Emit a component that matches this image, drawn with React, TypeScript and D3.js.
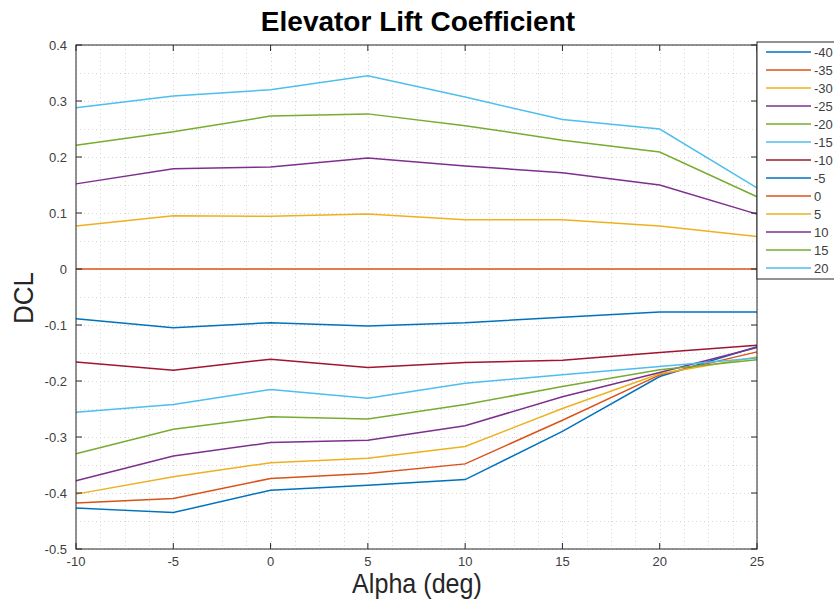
import React, { useEffect, useRef } from "react";
import * as d3 from "d3";

const alphas = [-10, -5, 0, 5, 10, 15, 20, 25];
const deflections = [-40, -35, -30, -25, -20, -15, -10, -5, 0, 5, 10, 15, 20];

const dcl40 = [-0.427, -0.435, -0.395, -0.386, -0.376, -0.29, -0.192, -0.139];
const dcl35 = [-0.418, -0.41, -0.374, -0.365, -0.348, -0.27, -0.189, -0.148];
const dcl30 = [-0.402, -0.371, -0.346, -0.338, -0.317, -0.249, -0.187, -0.157];
const dcl25 = [-0.378, -0.334, -0.31, -0.306, -0.28, -0.228, -0.185, -0.14];
const dcl20 = [-0.33, -0.286, -0.264, -0.268, -0.242, -0.21, -0.18, -0.162];
const dcl15 = [-0.256, -0.242, -0.215, -0.231, -0.204, -0.189, -0.174, -0.159];
const dcl10 = [-0.166, -0.181, -0.161, -0.176, -0.167, -0.163, -0.149, -0.136];
const dcl5 = [-0.089, -0.105, -0.096, -0.102, -0.096, -0.086, -0.077, -0.077];
const dcl0 = [0, 0, 0, 0, 0, 0, 0, 0];
const dclP5 = [0.077, 0.095, 0.094, 0.098, 0.088, 0.088, 0.077, 0.058];
const dclP10 = [0.152, 0.179, 0.182, 0.198, 0.184, 0.172, 0.15, 0.098];
const dclP15 = [0.221, 0.245, 0.273, 0.277, 0.256, 0.23, 0.209, 0.129];
const dclP20 = [0.288, 0.309, 0.32, 0.345, 0.307, 0.267, 0.25, 0.145];

const seriesValues = [dcl40, dcl35, dcl30, dcl25, dcl20, dcl15, dcl10, dcl5, dcl0, dclP5, dclP10, dclP15, dclP20];

const matlabColors = ["#0072BD", "#D95319", "#EDB120", "#7E2F8E", "#77AC30", "#4DBEEE", "#A2142F"];

const xTicks = [-10, -5, 0, 5, 10, 15, 20, 25];
const yTicks = [-0.5, -0.4, -0.3, -0.2, -0.1, 0, 0.1, 0.2, 0.3, 0.4];

const App: React.FC = () => {
  const svgRef = useRef<SVGSVGElement>(null);

  useEffect(() => {
    if (!svgRef.current) return;
    const svg = d3.select(svgRef.current);
    svg.selectAll("*").remove();

    const left = 76;
    const right = 757;
    const top = 45;
    const bottom = 549;
    const font = "'Liberation Sans', Arial, Helvetica, sans-serif";

    const x = d3.scaleLinear().domain([-10, 25]).range([left, right]);
    const y = d3.scaleLinear().domain([-0.5, 0.4]).range([bottom, top]);

    svg.append("rect").attr("width", 834).attr("height", 601).attr("fill", "#fff");

    // grid (major + minor, all dotted)
    const grid = svg.append("g").attr("stroke", "#d6d6d6").attr("stroke-width", 1).attr("stroke-dasharray", "1,3");
    const xGrid = d3.range(-10, 25.01, 1.25);
    const yGrid = d3.range(-0.5, 0.401, 0.05);
    grid
      .selectAll("line.gx")
      .data(xGrid)
      .enter()
      .append("line")
      .attr("x1", (d) => Math.round(x(d)) + 0.5)
      .attr("x2", (d) => Math.round(x(d)) + 0.5)
      .attr("y1", top)
      .attr("y2", bottom);
    grid
      .selectAll("line.gy")
      .data(yGrid)
      .enter()
      .append("line")
      .attr("y1", (d) => Math.round(y(d)) + 0.5)
      .attr("y2", (d) => Math.round(y(d)) + 0.5)
      .attr("x1", left)
      .attr("x2", right);

    // lines
    const line = d3
      .line<number>()
      .x((_, i) => x(alphas[i]))
      .y((d) => y(d));

    svg
      .append("g")
      .selectAll("path")
      .data(seriesValues)
      .enter()
      .append("path")
      .attr("d", (d) => line(d))
      .attr("fill", "none")
      .attr("stroke", (_, i) => matlabColors[i % 7])
      .attr("stroke-width", 1.5);

    // axes box + inward ticks
    const ax = svg.append("g").attr("stroke", "#262626").attr("stroke-width", 1);
    ax.append("rect")
      .attr("x", left)
      .attr("y", top)
      .attr("width", right - left)
      .attr("height", bottom - top)
      .attr("fill", "none");
    xTicks.forEach((t) => {
      ax.append("line").attr("x1", x(t)).attr("x2", x(t)).attr("y1", bottom).attr("y2", bottom - 6);
      ax.append("line").attr("x1", x(t)).attr("x2", x(t)).attr("y1", top).attr("y2", top + 6);
    });
    yTicks.forEach((t) => {
      ax.append("line").attr("x1", left).attr("x2", left + 6).attr("y1", y(t)).attr("y2", y(t));
      ax.append("line").attr("x1", right).attr("x2", right - 6).attr("y1", y(t)).attr("y2", y(t));
    });

    svg
      .append("g")
      .selectAll("text")
      .data(xTicks)
      .enter()
      .append("text")
      .attr("x", (d) => x(d))
      .attr("y", bottom + 17)
      .attr("text-anchor", "middle")
      .attr("font-family", font)
      .attr("font-size", 13)
      .attr("fill", "#404040")
      .text((d) => String(d));

    svg
      .append("g")
      .selectAll("text")
      .data(yTicks)
      .enter()
      .append("text")
      .attr("x", left - 9)
      .attr("y", (d) => y(d) + 4.5)
      .attr("text-anchor", "end")
      .attr("font-family", font)
      .attr("font-size", 13)
      .attr("fill", "#404040")
      .text((d) => String(d));

    // title & labels
    svg
      .append("text")
      .attr("x", 418)
      .attr("y", 31)
      .attr("text-anchor", "middle")
      .attr("font-family", font)
      .attr("font-weight", "bold")
      .attr("font-size", 28)
      .attr("fill", "#000")
      .text("Elevator Lift Coefficient");

    svg
      .append("text")
      .attr("transform", "translate(417,593) scale(0.93,1)")
      .attr("text-anchor", "middle")
      .attr("font-family", font)
      .attr("font-size", 27)
      .attr("fill", "#262626")
      .text("Alpha (deg)");

    svg
      .append("text")
      .attr("transform", "translate(33,298) rotate(-90) scale(0.93,1)")
      .attr("text-anchor", "middle")
      .attr("font-family", font)
      .attr("font-size", 28)
      .attr("fill", "#262626")
      .text("DCL");

    // legend
    const lg = svg.append("g");
    lg.append("rect")
      .attr("x", right)
      .attr("y", 42)
      .attr("width", 100)
      .attr("height", 237)
      .attr("fill", "#fff")
      .attr("stroke", "#262626");
    deflections.forEach((dv, i) => {
      const ly = 52 + i * 18;
      lg.append("line")
        .attr("x1", 766)
        .attr("x2", 811)
        .attr("y1", ly)
        .attr("y2", ly)
        .attr("stroke", matlabColors[i % 7])
        .attr("stroke-width", 1.5);
      lg.append("text")
        .attr("x", 814)
        .attr("y", ly + 4.5)
        .attr("font-family", font)
        .attr("font-size", 13)
        .attr("fill", "#404040")
        .text(String(dv));
    });
  }, []);

  return <svg ref={svgRef} width={834} height={601} style={{ position: "absolute", left: 0, top: 0 }} />;
};

export default App;
